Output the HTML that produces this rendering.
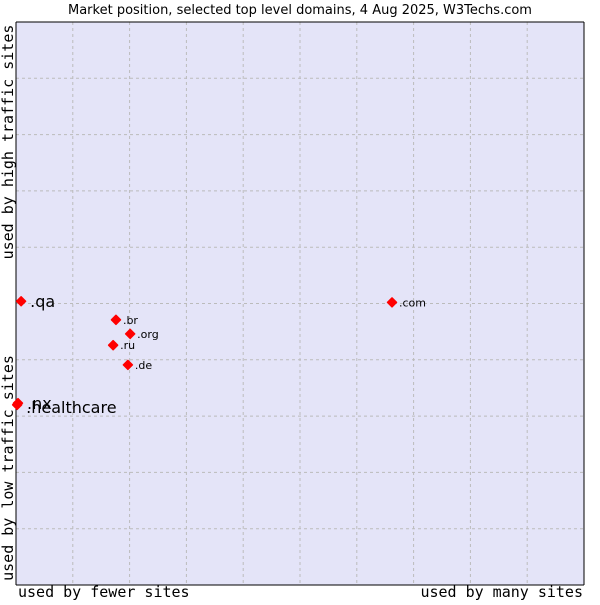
<!DOCTYPE html>
<html><head><meta charset="utf-8"><style>
body{margin:0;background:#fff;width:600px;height:600px;overflow:hidden}
svg text{font-family:"DejaVu Sans","Liberation Sans",sans-serif}
.mono{font-family:"DejaVu Sans Mono","Liberation Mono",monospace;font-size:15px}
</style></head><body>
<svg width="600" height="600">
<text x="300" y="14" text-anchor="middle" font-size="13">Market position, selected top level domains, 4 Aug 2025, W3Techs.com</text>
<rect x="16" y="22" width="568" height="563" fill="#e4e4f8"/>
<g id="grid"></g>
<line x1="16" y1="22" x2="16" y2="585" stroke="#000"/>
<line x1="16" y1="22" x2="584" y2="22" stroke="#000"/>
<line x1="584" y1="22" x2="584" y2="585" stroke="#000"/>
<line x1="16" y1="585" x2="584" y2="585" stroke="#000"/>
<g id="points"></g>
<text class="mono" x="18" y="597">used by fewer sites</text>
<text class="mono" x="583" y="597" text-anchor="end">used by many sites</text>
<text class="mono" transform="translate(13,142) rotate(-90)" text-anchor="middle">used by high traffic sites</text>
<text class="mono" transform="translate(13,468) rotate(-90)" text-anchor="middle">used by low traffic sites</text>
</svg>
<script>
const names=[".qa",".com",".br",".org",".ru",".de",".nx",".healthcare"];
const xVals=[0.9,66.2,17.6,20.1,17.1,19.7,0.35,0.2];
const yVals=[50.4,50.2,47.1,44.6,42.6,39.1,32.3,32.0];
const bigLabel=[true,false,false,false,false,false,true,true];
const X0=16,X1=584,Y0=585,Y1=22;
const sx=v=>X0+v/100*(X1-X0);
const sy=v=>Y0-v/100*(Y0-Y1);
const NS="http://www.w3.org/2000/svg";
const grid=document.getElementById('grid');
for(let i=1;i<10;i++){
 const l=document.createElementNS(NS,'line');
 l.setAttribute('x1',sx(i*10));l.setAttribute('x2',sx(i*10));l.setAttribute('y1',Y1);l.setAttribute('y2',Y0);
 l.setAttribute('stroke','#bbb');l.setAttribute('stroke-dasharray','3,3');
 
 
 grid.appendChild(l);
 const h=document.createElementNS(NS,'line');
 h.setAttribute('y1',sy(i*10));h.setAttribute('y2',sy(i*10));h.setAttribute('x1',X0);h.setAttribute('x2',X1);
 h.setAttribute('stroke','#bbb');h.setAttribute('stroke-dasharray','3,3');
 
 
 grid.appendChild(h);
}
const pts=document.getElementById('points');
names.forEach((n,i)=>{
 const x=sx(xVals[i]),y=sy(yVals[i]);
 const d=document.createElementNS(NS,'path');
 d.setAttribute('d',`M${x-4.5},${y} L${x},${y-4.5} L${x+4.5},${y} L${x},${y+4.5} Z`);
 d.setAttribute('fill','#f00');d.setAttribute('stroke','#f00');d.setAttribute('stroke-width','1.5');d.setAttribute('stroke-linejoin','round');
 
 
 pts.appendChild(d);
 const t=document.createElementNS(NS,'text');
 const big=bigLabel[i];
 t.setAttribute('x',x+(big?9:7));t.setAttribute('y',y+(big?(n==='.healthcare'?8:6):4));
 t.setAttribute('font-size',big?16:11);
 t.textContent=n;
 
 
 pts.appendChild(t);
});
</script>
</body></html>
